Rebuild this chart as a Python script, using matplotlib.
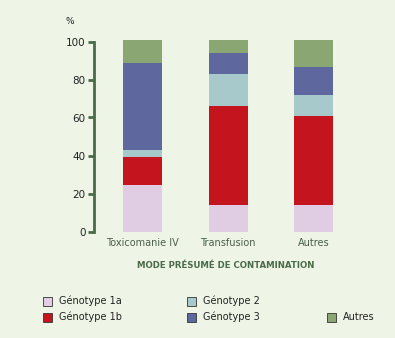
import matplotlib
matplotlib.use("Agg")
import matplotlib.pyplot as plt
from matplotlib.patches import Rectangle

categories = ["Toxicomanie IV", "Transfusion", "Autres"]
series_names = ["Génotype 1a", "Génotype 1b", "Génotype 2", "Génotype 3", "Autres"]
g1a = [24.4, 13.9, 13.9]
g1b = [14.7, 52.0, 46.7]
g2 = [3.7, 16.8, 11.1]
g3 = [45.7, 11.0, 14.7]
autres = [12.5, 7.3, 14.6]
yticks = [0, 20, 40, 60, 80, 100]
colors = ["#e0cde4", "#c4151f", "#a7c9cb", "#5e689e", "#89a673"]

plt.rcParams['font.family'] = ['DejaVu Sans']
bg = "#eef5e6"
green = "#4a6b4a"

W, H = 395, 338
fig = plt.figure(figsize=(W / 100, H / 100), dpi=100, facecolor=bg)
ax = fig.add_axes([94 / W, (H - 231.5) / H, (360 - 94) / W, 102 * 1.9 / H])
ax.set_facecolor(bg)

x = list(range(len(categories)))
bottom = [0.0] * len(categories)
for vals, c in zip([g1a, g1b, g2, g3, autres], colors):
    ax.bar(x, vals, bottom=bottom, width=0.456, color=c, linewidth=0)
    bottom = [b + v for b, v in zip(bottom, vals)]

ax.set_xlim(-0.567, 2.54)
ax.set_ylim(0, 102)
for s in ["top", "right", "bottom"]:
    ax.spines[s].set_visible(False)
ax.spines["left"].set_bounds(0, 100)
ax.spines["left"].set_color(green)
ax.spines["left"].set_linewidth(2)
ax.set_yticks(yticks)
ax.set_yticklabels([str(t) for t in yticks], fontsize=7.5, color="#222222")
ax.tick_params(axis="y", length=4, width=2, color=green, pad=2)
ax.set_xticks(x)
ax.set_xticklabels(categories, fontsize=7, color="#4a5e4a")
ax.tick_params(axis="x", length=0, pad=5)

fig.text(70 / W, 1 - 22 / H, "%", fontsize=6.5, color="#222222", ha="center", va="center")
fig.text(226 / W, 1 - 265 / H, "MODE PRÉSUMÉ DE CONTAMINATION", fontsize=6.2,
         fontweight="bold", color="#4a6b4a", ha="center", va="center")

legend_pos = [(47, 301), (47, 317), (191, 301), (191, 317), (331, 317)]
for name, c, (lx, ly) in zip(series_names, colors, legend_pos):
    fig.patches.append(Rectangle(((lx - 4.5) / W, 1 - (ly + 4.5) / H), 9 / W, 9 / H,
                                 transform=fig.transFigure, facecolor=c,
                                 edgecolor="#333333", linewidth=0.6))
    fig.text((lx + 12) / W, 1 - ly / H, name, fontsize=7, color="#222222",
             ha="left", va="center")

fig.savefig("out.png", dpi=100, facecolor=bg)
